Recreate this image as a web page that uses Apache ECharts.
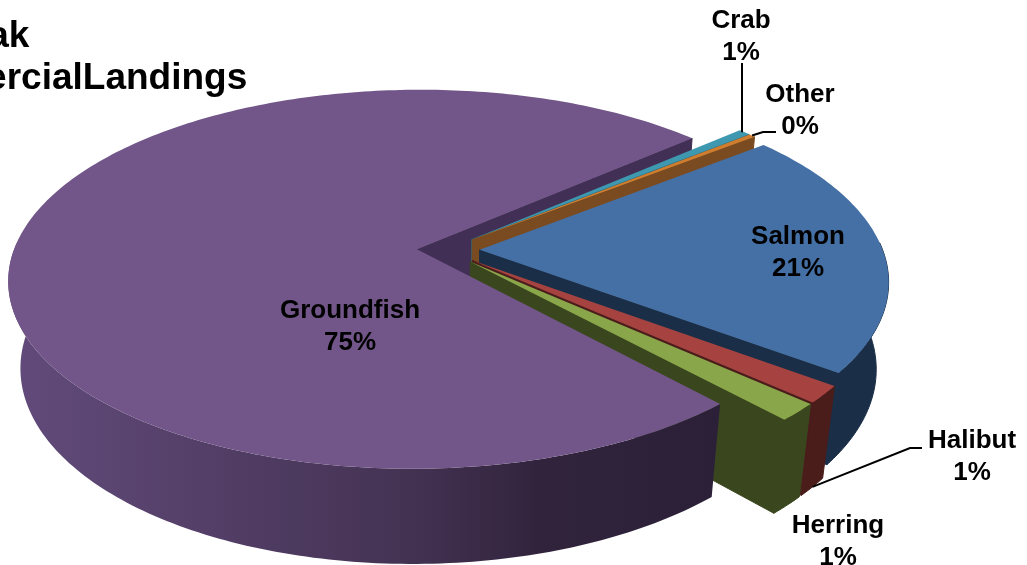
<!DOCTYPE html>
<html>
<head>
<meta charset="utf-8">
<title>Kodiak CommercialLandings</title>
<style>
html, body { margin: 0; padding: 0; background: #fff; }
#main { width: 1027px; height: 565px; }
</style>
<script src="https://cdn.jsdelivr.net/npm/echarts@6/dist/echarts.min.js"></script>
</head>
<body>
<div id="main"></div>
<script>
// clockwise from the top of the gap, shares in percent
var categories = ['Crab', 'Other', 'Salmon', 'Halibut', 'Herring', 'Groundfish'];
var shares = [0.55, 0.3, 21.0, 1.46, 1.49, 75.2];

var topColors = ['#3e98b0', '#d07d2e', '#4570a6', '#a64340', '#8aa64b', '#725689'];
var faceColors = ['#2a6475', '#7a4b20', '#1a2f47', '#4a1c1a', '#3a471e', '#412f55'];
var explode = [0.088, 0.088, 0.086, 0.088, 0.088, 0.07];

// label centres, and the leader line bends (if any)
var labelAt = [[741, 37], [800, 111], [798, 253], [972, 457], [838, 542], [350, 327]];
var leaderBends = [[[742, 63]], [[763, 132], [776, 132]], null, [[910, 448], [922, 448]], null, null];
var leaderOnBase = [false, false, false, true, false, false];

// perspective of the pie
var CX = 445, CY = 250, A = 403, B = 185, K = 0.158, M = 0.028, H = 89;
var START_ANGLE = 41.6;
var total = shares.reduce(function (a, b) { return a + b; }, 0);
var FONT = '"Liberation Sans", Arial, sans-serif';

function project(u, v, z) {
	var s = 1 / (1 + K * v + M * z);
	return [CX + A * u * s, CY - B * v * s + H * z * s];
}

function sliceAngles(index) {
	var before = 0;
	for (var i = 0; i < index; i++) before += shares[i];
	var a0 = START_ANGLE - before / total * 360;
	var a1 = a0 - shares[index] / total * 360;
	return [a0, a1];
}

function pointOn(index, deg, radius, z) {
	var ang = sliceAngles(index);
	var mid = (ang[0] + ang[1]) / 2 * Math.PI / 180;
	var t = deg * Math.PI / 180;
	var e = explode[index];
	return project(e * Math.cos(mid) + radius * Math.cos(t), e * Math.sin(mid) + radius * Math.sin(t), z);
}

function arcDegrees(a0, a1) {
	var n = Math.ceil(Math.abs(a0 - a1)) + 1;
	var out = [];
	for (var i = 0; i <= n; i++) out.push(a0 + (a1 - a0) * i / n);
	return out;
}

function renderSlice(params, api) {
	var i = params.dataIndex;
	var isMain = categories[i] === 'Groundfish';
	var ang = sliceAngles(i);
	var degs = arcDegrees(ang[0], ang[1]);
	var base = 10 + i * 3;
	var children = [];

	// cut face on the clockwise end, seen from the front
	var apexTop = pointOn(i, 0, 0, 0), apexBase = pointOn(i, 0, 0, 1);
	children.push({
		type: 'polygon',
		z2: isMain ? 1 : base,
		shape: { points: [apexTop, pointOn(i, ang[1], 1, 0), pointOn(i, ang[1], 1, 1), apexBase] },
		style: { fill: faceColors[i], stroke: faceColors[i], lineWidth: 1 }
	});

	// outer wall, front part only
	var front = degs.filter(function (d) { return Math.sin(d * Math.PI / 180) < 0.05; });
	if (front.length > 1) {
		var wall = front.map(function (d) { return pointOn(i, d, 1, 0); });
		var under = front.slice().reverse().map(function (d) { return pointOn(i, d, 1, 1); });
		var fill = faceColors[i];
		if (isMain) {
			fill = new echarts.graphic.LinearGradient(0, 0, 1, 0, [
				{ offset: 0, color: '#624b7b' },
				{ offset: 0.55, color: '#453354' },
				{ offset: 0.75, color: '#31233c' },
				{ offset: 1, color: '#2b2038' }
			]);
		}
		children.push({
			type: 'polygon',
			z2: base + 1,
			shape: { points: wall.concat(under) },
			style: isMain ? { fill: fill } : { fill: fill, stroke: fill, lineWidth: 1 }
		});
	}

	// top of the slice
	var topPoints = [apexTop].concat(degs.map(function (d) { return pointOn(i, d, 1, 0); }));
	children.push({
		type: 'polygon',
		z2: base + 2,
		shape: { points: topPoints },
		style: { fill: topColors[i] }
	});

	// leader line
	if (leaderBends[i]) {
		var mid = (ang[0] + ang[1]) / 2;
		var anchor = pointOn(i, mid, 1, leaderOnBase[i] ? 1 : 0);
		if (leaderBends[i].length === 1) anchor = [leaderBends[i][0][0], anchor[1]];
		children.push({
			type: 'polyline',
			z2: 49,
			shape: { points: [anchor].concat(leaderBends[i]) },
			style: { stroke: '#000', lineWidth: 2, fill: null }
		});
	}

	children.push({
		type: 'text',
		z2: 50,
		style: {
			text: categories[i] + '\n' + Math.round(api.value(0)) + '%',
			x: labelAt[i][0],
			y: labelAt[i][1],
			align: 'center',
			verticalAlign: 'middle',
			font: 'bold 26px ' + FONT,
			lineHeight: 32,
			fill: '#000'
		}
	});

	return { type: 'group', children: children };
}

var myChart = echarts.init(document.getElementById('main'), null, { renderer: 'canvas' });
var option = {
	animation: false,
	backgroundColor: '#fff',
	title: [
		{ text: 'Kodiak', left: -99, top: 13, textStyle: { fontFamily: FONT, fontSize: 37, fontWeight: 'bold', color: '#000' } },
		{ text: 'CommercialLandings', left: -134, top: 55, textStyle: { fontFamily: FONT, fontSize: 37, fontWeight: 'bold', color: '#000' } }
	],
	series: [{
		type: 'custom',
		coordinateSystem: 'none',
		silent: true,
		clip: false,
		renderItem: renderSlice,
		data: shares.map(function (v, i) { return { name: categories[i], value: [v] }; })
	}]
};
myChart.setOption(option);
</script>
</body>
</html>
